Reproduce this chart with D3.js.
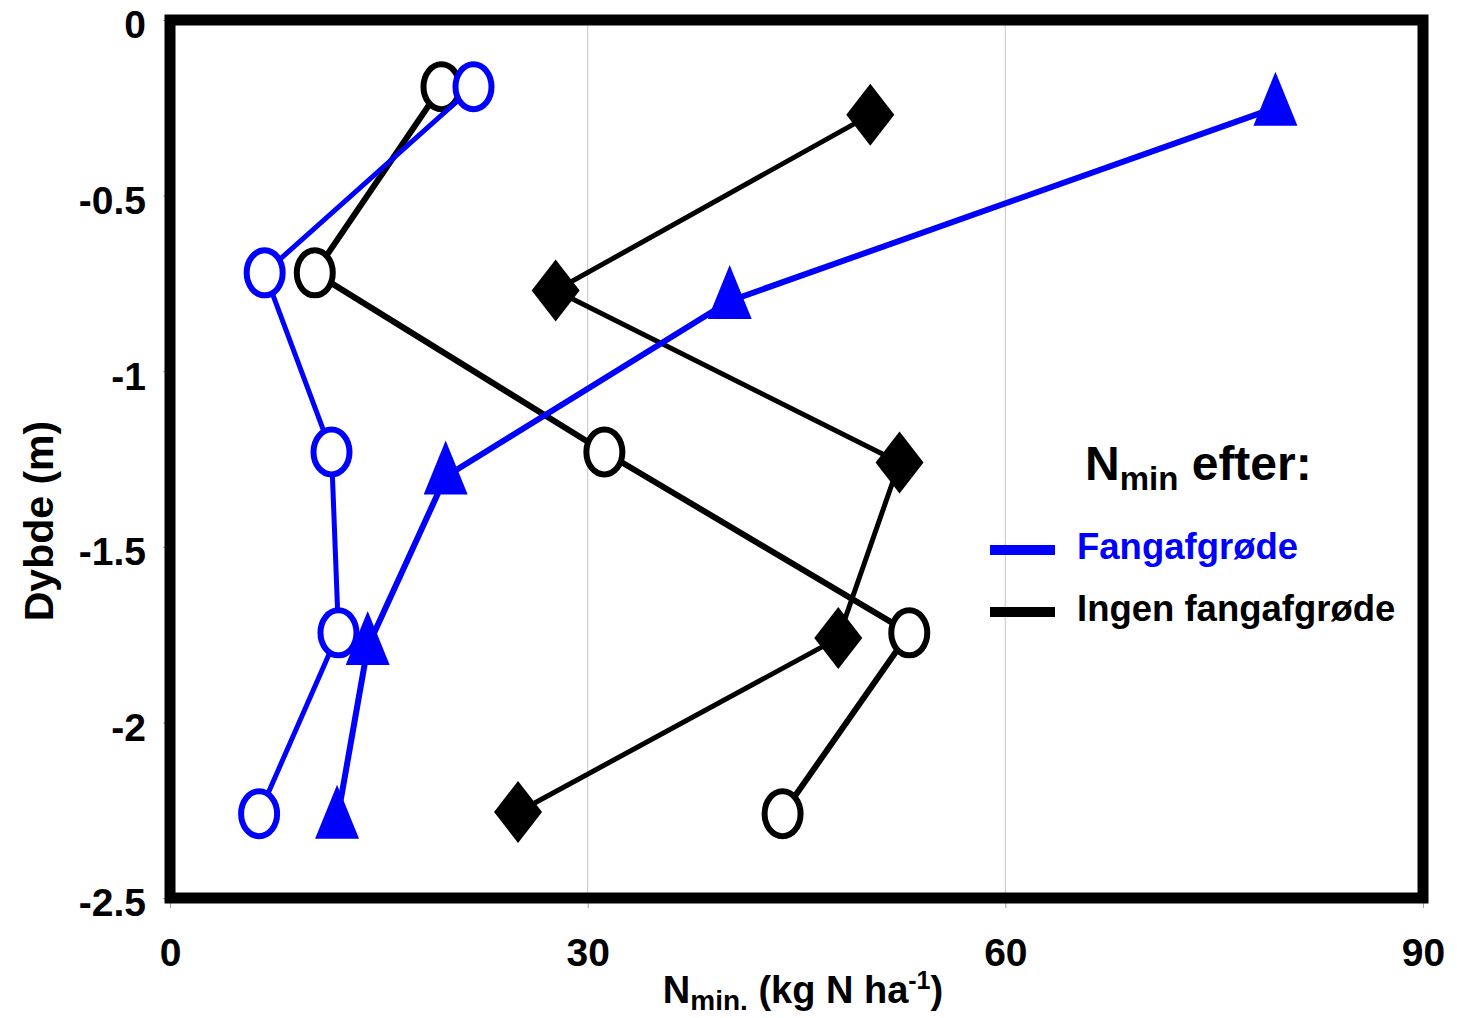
<!DOCTYPE html>
<html>
<head>
<meta charset="utf-8">
<script src="https://cdn.jsdelivr.net/npm/d3@7"></script>
<style>
  html, body { margin: 0; padding: 0; background: #fff; }
  svg { display: block; font-family: "Liberation Sans", Arial, sans-serif; font-weight: bold; }
</style>
</head>
<body>
<svg id="chart" width="1457" height="1018"></svg>
<script>
// Mineral N (kg N/ha) by soil depth (m)
const fangCircleN     = [21.8, 6.8, 11.6, 12.1, 6.4];
const fangCircleDepth = [-0.19, -0.72, -1.23, -1.745, -2.26];

const fangTriN     = [79.4, 40.2, 19.8, 14.2, 12.0];
const fangTriDepth = [-0.25, -0.80, -1.30, -1.785, -2.28];

const ingenCircleN     = [19.5, 10.4, 31.2, 53.1, 44.0];
const ingenCircleDepth = [-0.19, -0.72, -1.23, -1.745, -2.26];

const ingenDiamondN     = [50.3, 27.7, 52.4, 48.0, 25.0];
const ingenDiamondDepth = [-0.27, -0.77, -1.26, -1.76, -2.255];

const xTicks = [0, 30, 60, 90];
const xTickLabels = ["0", "30", "60", "90"];
const yTicks = [0, -0.5, -1, -1.5, -2, -2.5];
const yTickLabels = ["0", "-0.5", "-1", "-1.5", "-2", "-2.5"];
const gridValues = [30, 60];

const legendItems = [
  { label: "Fangafgrøde", color: "#0000ff" },
  { label: "Ingen fangafgrøde", color: "#000000" }
];

const svg = d3.select("#chart");
const plot = { left: 170, right: 1423, top: 20, bottom: 898 };

const x = d3.scaleLinear().domain([0, 90]).range([plot.left, plot.right]);
const y = d3.scaleLinear().domain([-2.5, 0]).range([plot.bottom, plot.top]);

// vertical gridlines
svg.append("g").selectAll("line").data(gridValues).join("line")
  .attr("x1", d => x(d)).attr("x2", d => x(d))
  .attr("y1", plot.top).attr("y2", plot.bottom)
  .attr("stroke", "#c4c4c4").attr("stroke-width", 1);

// axes
const xAxis = svg.append("g")
  .attr("transform", `translate(0,${plot.bottom})`)
  .call(d3.axisBottom(x).tickValues(xTicks)
    .tickFormat((d, i) => xTickLabels[i]).tickSize(10).tickPadding(30));
const yAxis = svg.append("g")
  .attr("transform", `translate(${plot.left},0)`)
  .call(d3.axisLeft(y).tickValues(yTicks)
    .tickFormat((d, i) => yTickLabels[i]).tickSize(7).tickPadding(17));

[xAxis, yAxis].forEach(g => {
  g.select(".domain").remove();
  g.selectAll(".tick line").attr("stroke", "#a0a0a0").attr("stroke-width", 1);
  g.selectAll(".tick text")
    .attr("fill", "#000")
    .style("font-family", "'Liberation Sans', Arial, sans-serif")
    .style("font-weight", "bold")
    .style("font-size", "39px");
});
yAxis.selectAll(".tick text").attr("dy", "0.46em");

// thick frame around the plot area
svg.append("rect")
  .attr("x", plot.left).attr("y", plot.top)
  .attr("width", plot.right - plot.left).attr("height", plot.bottom - plot.top)
  .attr("fill", "none").attr("stroke", "#000").attr("stroke-width", 11);

function zipSeries(xs, ys) { return xs.map((v, i) => ({ n: v, d: ys[i] })); }

const straight = d3.line().x(p => x(p.n)).y(p => y(p.d));

const diamondPath = "M0,-31L24,0L0,31L-24,0Z";
const trianglePath = "M0,-36L22,18L-22,18Z";

function drawSeries(data, opts) {
  const g = svg.append("g");
  g.append("path").datum(data)
    .attr("d", opts.line)
    .attr("fill", "none")
    .attr("stroke", opts.color)
    .attr("stroke-width", opts.lineWidth)
    .attr("stroke-linejoin", "round");
  const m = g.selectAll("g.m").data(data).join("g")
    .attr("transform", p => `translate(${x(p.n)},${y(p.d)})`);
  if (opts.marker === "ellipse") {
    m.append("ellipse").attr("rx", 18).attr("ry", 22.5)
      .attr("fill", "#fff").attr("stroke", opts.color).attr("stroke-width", 6);
  } else {
    m.append("path").attr("d", opts.marker === "diamond" ? diamondPath : trianglePath)
      .attr("fill", opts.color);
  }
}

drawSeries(zipSeries(ingenDiamondN, ingenDiamondDepth), { line: straight, color: "#000", lineWidth: 5, marker: "diamond" });
drawSeries(zipSeries(ingenCircleN, ingenCircleDepth), { line: straight, color: "#000", lineWidth: 6, marker: "ellipse" });
drawSeries(zipSeries(fangCircleN, fangCircleDepth), { line: straight, color: "#0000ff", lineWidth: 5, marker: "ellipse" });
drawSeries(zipSeries(fangTriN, fangTriDepth), { line: straight, color: "#0000ff", lineWidth: 6, marker: "triangle" });

// legend
const legend = svg.append("g");
const lt = legend.append("text").attr("x", 1085).attr("y", 480).style("font-size", "48px");
lt.append("tspan").text("N");
lt.append("tspan").attr("dy", 10).style("font-size", "33px").text("min");
lt.append("tspan").attr("dy", -10).text(" efter:");

legendItems.forEach((item, i) => {
  const cy = 550 + i * 62;
  legend.append("line")
    .attr("x1", 990).attr("x2", 1055).attr("y1", cy).attr("y2", cy)
    .attr("stroke", item.color).attr("stroke-width", 10);
  legend.append("text")
    .attr("x", 1077).attr("y", cy + 9)
    .attr("fill", item.color).style("font-size", "36.5px")
    .text(item.label);
});

// axis titles
const xt = svg.append("text").attr("x", 803).attr("y", 1003)
  .attr("text-anchor", "middle").style("font-size", "38px");
xt.append("tspan").text("N");
xt.append("tspan").attr("dy", 7).style("font-size", "28px").text("min.");
xt.append("tspan").attr("dy", -7).text(" (kg N ha");
xt.append("tspan").attr("dy", -14).style("font-size", "25px").text("-1");
xt.append("tspan").attr("dy", 14).text(")");

svg.append("text")
  .attr("transform", "translate(53,521) rotate(-90)")
  .attr("text-anchor", "middle").style("font-size", "41px")
  .text("Dybde (m)");
</script>
</body>
</html>
